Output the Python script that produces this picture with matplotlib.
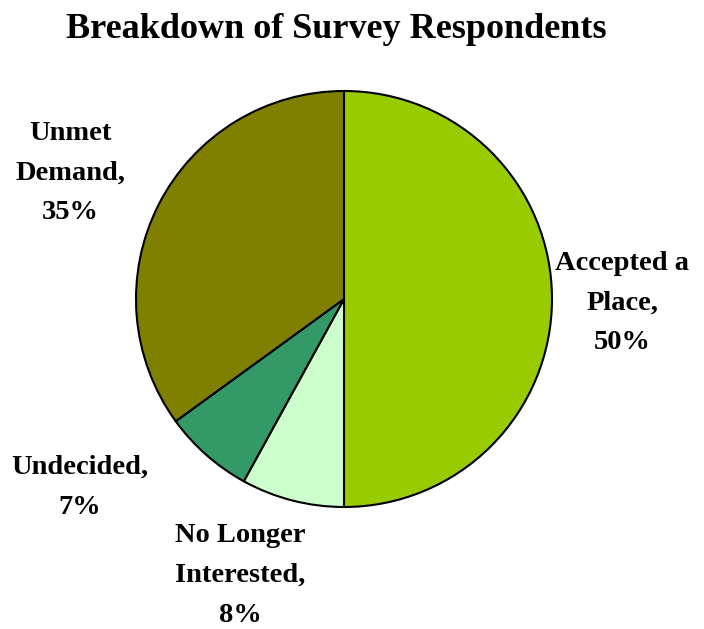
import matplotlib
matplotlib.use("Agg")
import matplotlib.pyplot as plt

categories = ["Accepted a\nPlace,\n50%", "No Longer\nInterested,\n8%", "Undecided,\n7%", "Unmet\nDemand,\n35%"]
values = [50, 8, 7, 35]
colors = ["#99CC00", "#CCFFCC", "#339966", "#808000"]
label_pos = [(1.337, -0.02), (-0.5, -1.33), (-1.27, -0.905), (-1.317, 0.606)]

W, H = 704, 629
fig = plt.figure(figsize=(W / 100, H / 100), dpi=100)
cx, cy, r = 344, 299, 208
ax = fig.add_axes([(cx - r) / W, (H - cy - r) / H, 2 * r / W, 2 * r / H])
wedges, _ = ax.pie(values, colors=colors, startangle=90, counterclock=False,
                   wedgeprops=dict(edgecolor="black", linewidth=1.5))
ax.set_xlim(-1, 1)
ax.set_ylim(-1, 1)
ax.set_aspect("equal")
ax.axis("off")

for lab, (x, y) in zip(categories, label_pos):
    ax.text(x, y, lab, ha="center", va="center", family="Liberation Serif",
            fontweight="bold", fontsize=20.5, linespacing=1.78)

fig.text(336 / W, 1 - 29 / H, "Breakdown of Survey Respondents", ha="center", va="center",
         family="Liberation Serif", fontweight="bold", fontsize=26)

fig.savefig("out.png", dpi=100, facecolor="white")
